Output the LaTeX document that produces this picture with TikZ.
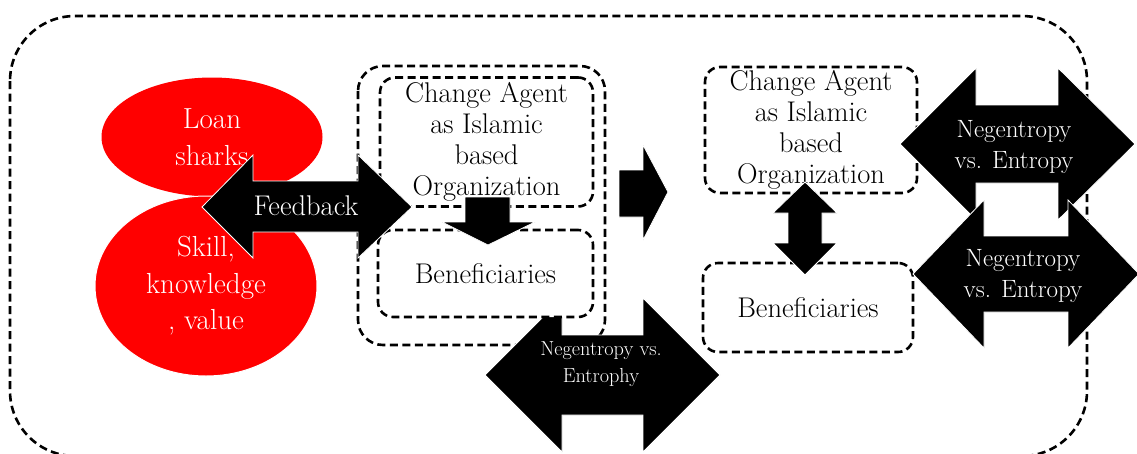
\documentclass[tikz,border=0pt]{standalone}
\usepackage{fontspec}
\usetikzlibrary{shapes.geometric}
\newcommand\myfontbig{\fontsize{28.5}{31}\selectfont}
\newcommand\myfontell{\fontsize{29}{36.5}\selectfont}
\newcommand\myfontfb{\fontsize{28.5}{30}\selectfont}
\newcommand\myfontneg{\fontsize{25}{31}\selectfont}
\newcommand\myfontsmall{\fontsize{20.3}{27}\selectfont}
\tikzset{
  dashline/.style={draw=black, dash pattern=on 8pt off 4.5pt, line width=2.6pt},
  dashedbox/.style={dashline, rounded corners=15pt, fill=white, inner sep=0pt,
    align=center, font=\myfontbig},
  redblob/.style={ellipse, fill=red, inner sep=0pt, text=white, align=center, font=\myfontell},
  blockarrow/.style={fill=black, draw=white, line width=0.8pt},
  arrowtext/.style={text=white, align=center, inner sep=0pt},
}
\begin{document}
\begin{tikzpicture}[x=1pt,y=-1pt]
\useasboundingbox (0,0) rectangle (1137,453);
% outer frame
\draw[dashline, rounded corners=65pt] (10,16) rectangle (1087,456);

% red ellipses
\node[redblob, minimum width=221pt, minimum height=119pt] (loan) at (212,137) {Loan\\sharks};
\node[redblob, draw=white, line width=1pt, minimum width=222pt, minimum height=180pt] (skill) at (206,286) {Skill,\\knowledge\\, value};

% middle group
\draw[dashline, rounded corners=25pt] (358,66) rectangle (605,345);
\coordinate (midgroup) at (481.5,205.5);

% bottom double arrow (behind inner boxes)
\draw[blockarrow] (485,375) -- (562,298) -- (562,335) -- (643,335) -- (643,298) -- (720,375)
  -- (643,452) -- (643,415) -- (562,415) -- (562,452) -- cycle;

\node[dashedbox, minimum width=213pt, minimum height=129pt] (agentA) at (486.5,142)
  {Change Agent\\as Islamic\\based\\Organization};
\node[dashedbox, minimum width=215pt, minimum height=87pt] (benefA) at (485.5,273.5)
  {Beneficiaries};

% down arrow between inner boxes
\draw[blockarrow] (465,197) -- (510,197) -- (510,222) -- (535,222) -- (488,245)
  -- (442,222) -- (465,222) -- cycle;

% feedback arrow
\draw[blockarrow] (202,207) -- (253,155) -- (253,181) -- (358,181) -- (358,155) -- (412,207)
  -- (358,258) -- (358,232) -- (253,232) -- (253,258) -- cycle;
\node[arrowtext, font=\myfontfb, anchor=base] (feedback) at (306,215) {Feedback};

% right block arrow
\draw[blockarrow] (619,170) -- (643,170) -- (643,145) -- (668,192) -- (643,240)
  -- (643,217) -- (619,217) -- cycle;

% right group boxes
\node[dashedbox, minimum width=212pt, minimum height=126pt] (agentB) at (811,130)
  {Change Agent\\as Islamic\\based\\Organization};
\node[dashedbox, minimum width=210pt, minimum height=89pt] (benefB) at (808,307.5)
  {Beneficiaries};

% vertical double arrow
\draw[blockarrow] (805,182) -- (837,213) -- (822,213) -- (822,243) -- (837,243) -- (805,275)
  -- (773,243) -- (788,243) -- (788,213) -- (773,213) -- cycle;

% right negentropy arrows
\draw[blockarrow] (900,144) -- (976,68) -- (976,105) -- (1058,105) -- (1058,68) -- (1135,144)
  -- (1058,220) -- (1058,183) -- (976,183) -- (976,220) -- cycle;
\draw[blockarrow] (913,274) -- (984,200) -- (984,236) -- (1068,236) -- (1068,200) -- (1139,274)
  -- (1068,348) -- (1068,312) -- (984,312) -- (984,348) -- cycle;

\node[arrowtext, font=\myfontneg] (negA) at (1014,146.5) {Negentropy\\vs. Entropy};
\node[arrowtext, font=\myfontneg] (negB) at (1023,275.5) {Negentropy\\vs. Entropy};
\node[arrowtext, font=\myfontsmall] (negC) at (601,364) {Negentropy vs.\\Entrophy};
\end{tikzpicture}
\end{document}
